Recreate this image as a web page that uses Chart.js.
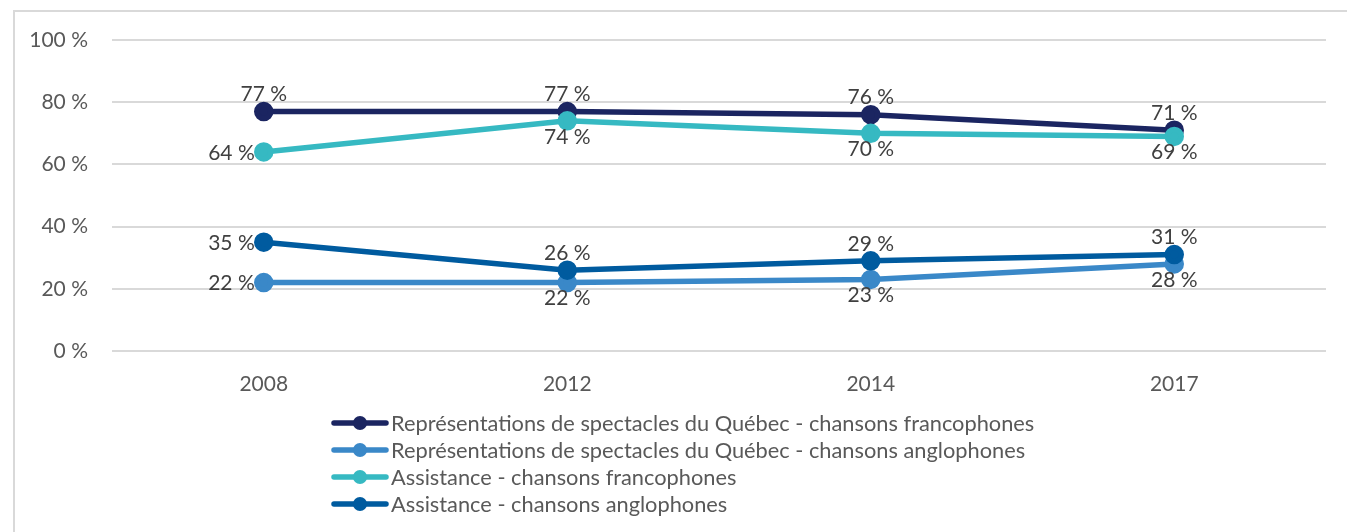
<!DOCTYPE html>
<html>
<head>
<meta charset="utf-8">
<script src="https://cdn.jsdelivr.net/npm/chart.js@4"></script>
<style>
html,body{margin:0;padding:0;background:#fff;overflow:hidden;}
#wrap{position:relative;width:1347px;height:532px;}
</style>
</head>
<body>
<div id="wrap"><canvas id="c" width="1347" height="532"></canvas></div>
<script>
const years = ['2008', '2012', '2014', '2017'];
const seriesNames = [
  'Représentations de spectacles du Québec - chansons francophones',
  'Représentations de spectacles du Québec - chansons anglophones',
  'Assistance - chansons francophones',
  'Assistance - chansons anglophones'
];
const repFranco = [77, 77, 76, 71];
const repAnglo = [22, 22, 23, 28];
const assFranco = [64, 74, 70, 69];
const assAnglo = [35, 26, 29, 31];
const yTicks = [0, 20, 40, 60, 80, 100];

const colors = ['#1B2561', '#3A88C8', '#36B9C2', '#005B9F'];
const labelPos = [
  ['top', 'top', 'top', 'top'],
  ['left', 'bottom', 'bottom', 'bottom'],
  ['left', 'bottom', 'bottom', 'bottom'],
  ['left', 'top', 'top', 'top']
];
const FONT = 'Lato, "Liberation Sans", sans-serif';
const allData = [repFranco, repAnglo, assFranco, assAnglo];

const datasets = allData.map((d, i) => ({
  label: seriesNames[i],
  data: d,
  borderColor: colors[i],
  backgroundColor: colors[i],
  pointBackgroundColor: colors[i],
  pointBorderColor: colors[i],
  borderWidth: 5.5,
  pointRadius: 7,
  pointHoverRadius: 7,
  tension: 0,
  order: 4 - i
}));

const extras = {
  id: 'extras',
  beforeDraw(chart) {
    const ctx = chart.ctx;
    ctx.save();
    ctx.strokeStyle = '#d9d9d9';
    ctx.lineWidth = 2;
    ctx.beginPath();
    ctx.moveTo(14, 600);
    ctx.lineTo(14, 11);
    ctx.lineTo(1400, 11);
    ctx.stroke();
    ctx.restore();
  },
  afterDatasetsDraw(chart) {
    const ctx = chart.ctx;
    ctx.save();
    ctx.font = '21px ' + FONT;
    ctx.fillStyle = '#404040';
    chart.data.datasets.forEach((ds, i) => {
      const meta = chart.getDatasetMeta(i);
      meta.data.forEach((pt, j) => {
        const txt = ds.data[j] + ' %';
        const pos = labelPos[i][j];
        if (pos === 'top') {
          ctx.textAlign = 'center'; ctx.textBaseline = 'middle';
          ctx.fillText(txt, pt.x, pt.y - 17);
        } else if (pos === 'bottom') {
          ctx.textAlign = 'center'; ctx.textBaseline = 'middle';
          ctx.fillText(txt, pt.x, pt.y + 16);
        } else {
          ctx.textAlign = 'right'; ctx.textBaseline = 'middle';
          ctx.fillText(txt, pt.x - 9, pt.y + 1);
        }
      });
    });
    // legend
    ctx.font = '21.8px ' + FONT;
    const widths = seriesNames.map(s => ctx.measureText(s).width);
    const blockW = 59 + Math.max(...widths);
    const x0 = Math.round(683 - blockW / 2);
    const rowY = [423, 450, 477, 504];
    seriesNames.forEach((s, i) => {
      const y = rowY[i];
      ctx.strokeStyle = colors[i];
      ctx.lineWidth = 5.5;
      ctx.lineCap = 'round';
      ctx.beginPath();
      ctx.moveTo(x0 + 2, y);
      ctx.lineTo(x0 + 54, y);
      ctx.stroke();
      ctx.fillStyle = colors[i];
      ctx.beginPath();
      ctx.arc(x0 + 28, y, 7, 0, Math.PI * 2);
      ctx.fill();
      ctx.fillStyle = '#595959';
      ctx.textAlign = 'left';
      ctx.textBaseline = 'middle';
      ctx.fillText(s, x0 + 59, y + 1);
    });
    ctx.restore();
  }
};

new Chart(document.getElementById('c'), {
  type: 'line',
  data: { labels: years, datasets },
  options: {
    responsive: false,
    animation: false,
    events: [],
    layout: { padding: { top: 40, right: 21, bottom: 136, left: 0 } },
    plugins: { legend: { display: false }, tooltip: { enabled: false } },
    scales: {
      x: {
        offset: true,
        grid: { display: false },
        border: { display: false },
        ticks: { color: '#595959', font: { family: FONT, size: 21 }, padding: 13 },
        afterFit(s) { s.height = 45; }
      },
      y: {
        min: 0, max: 100,
        afterBuildTicks(s) { s.ticks = yTicks.map(v => ({ value: v })); },
        grid: { color: '#d9d9d9', lineWidth: 2, drawTicks: false },
        border: { display: false },
        ticks: { color: '#595959', font: { family: FONT, size: 21 }, padding: 24,
                 callback: v => v + ' %' },
        afterFit(s) { s.width = 112; }
      }
    }
  },
  plugins: [extras]
});
</script>
</body>
</html>
